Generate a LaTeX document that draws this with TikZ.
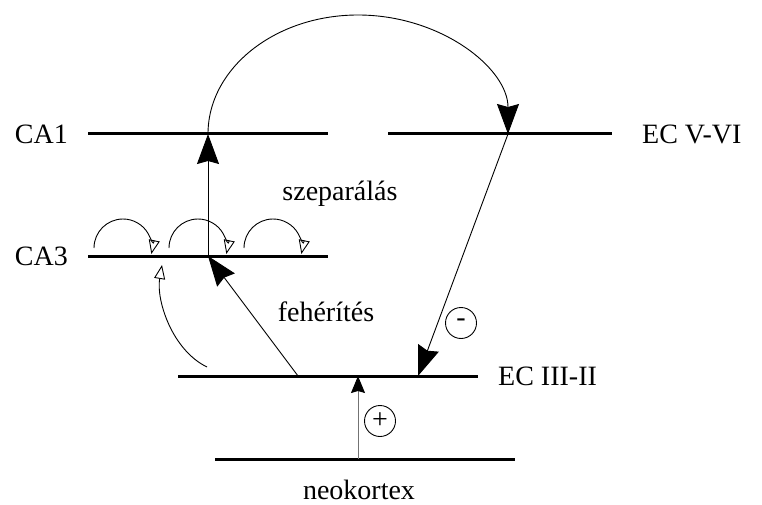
\documentclass[tikz,border=0pt]{standalone}
\usepackage{fontspec}
\setmainfont{Liberation Serif}
\usetikzlibrary{arrows.meta}
\begin{document}
\begin{tikzpicture}[x=1pt,y=-1pt,
  layer/.style={line width=3pt},
  thin/.style={line width=0.9pt},
  lbl/.style={font=\fontsize{28}{32}\selectfont, inner sep=0pt},
  sgn/.style={draw, circle, line width=0.9pt, minimum size=31pt, inner sep=0pt, font=\fontsize{28}{30}\selectfont},
  big/.style={-{Stealth[length=30pt,width=22pt,inset=3pt]}},
  small/.style={-{Stealth[length=17pt,width=14pt,inset=2pt,color=black]}},
  open/.style={-{Triangle[open,length=14pt,width=11pt,line width=0.9pt]}}
]
\useasboundingbox (0,0) rectangle (762,505);
% layer lines
\coordinate (ca1a) at (88,134); \coordinate (ca1b) at (328,134);
\coordinate (ecva) at (388,134); \coordinate (ecvb) at (612,134);
\coordinate (ca3a) at (88,256); \coordinate (ca3b) at (328,256);
\coordinate (ec3a) at (178,376); \coordinate (ec3b) at (478,376);
\coordinate (neoa) at (215,459); \coordinate (neob) at (515,459);
\draw[layer] (ca1a) -- (ca1b);
\draw[layer] (ecva) -- (ecvb);
\draw[layer] (ca3a) -- (ca3b);
\draw[layer] (ec3a) -- (ec3b);
\draw[layer] (neoa) -- (neob);
% labels
\node[lbl, anchor=east] (lca1) at (68,134) {CA1};
\node[lbl, anchor=east] (lca3) at (68,256) {CA3};
\node[lbl, anchor=west] (lecv) at (642,134) {EC V-VI};
\node[lbl, anchor=west] (lec3) at (498,376) {EC III-II};
\node[lbl] (lneo) at (359,490) {neokortex};
\node[lbl] (lsz) at (340,194) {szeparálás};
\node[lbl] (lfe) at (326,312) {fehérítés};
% key points
\coordinate (p1) at (208,134);
\coordinate (p2) at (508,134);
\coordinate (p3) at (208,256);
\coordinate (p4) at (418,376);
\coordinate (p5) at (298,376);
\coordinate (p6) at (358,376);
\coordinate (p7) at (358,459);
% arrows
\draw[thin, big] (p3) -- (p1);
\draw[thin, big] (p1) arc[start angle=180, end angle=360, x radius=150, y radius=119];
\draw[thin, big] (p2) -- (p4);
\draw[thin, big] (p5) -- (p3);
\draw[thin, small, draw=black!55] (p7) -- (p6);
\coordinate (q1) at (207,367); \coordinate (q2) at (162,265);
\draw[thin, open] (q1) .. controls (172,350) and (156,300) .. (q2);
% small recurrent arcs
\coordinate (r1) at (94,248);
\coordinate (r2) at (169,248);
\coordinate (r3) at (244,248);
\draw[thin, open] (r1) arc[start angle=180, end angle=372, radius=29];
\draw[thin, open] (r2) arc[start angle=180, end angle=372, radius=29];
\draw[thin, open] (r3) arc[start angle=180, end angle=372, radius=29];
% signs
\node[sgn] (minus) at (461,323) {-};
\node[sgn] (plus) at (380,421) {+};
\end{tikzpicture}
\end{document}
